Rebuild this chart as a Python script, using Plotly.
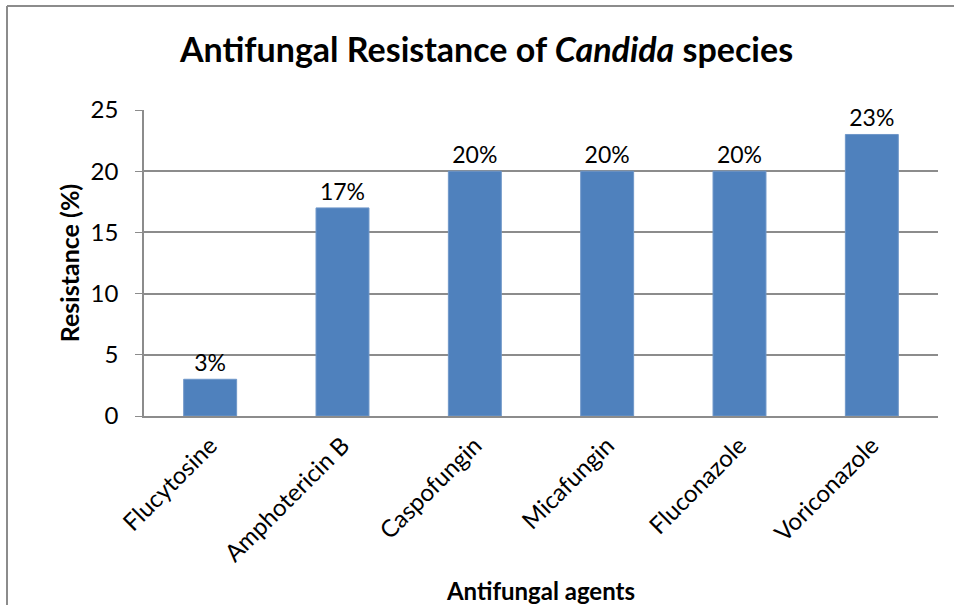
import plotly.graph_objects as go

# Antifungal resistance (%) of Candida species by agent
agents = ["Flucytosine", "Amphotericin B", "Caspofungin", "Micafungin", "Fluconazole", "Voriconazole"]
resistance = [3, 17, 20, 20, 20, 23]
y_ticks = [0, 5, 10, 15, 20, 25]

FONT = "Lato"
GRID = "#8c8c8c"

fig = go.Figure(
    go.Bar(
        x=agents,
        y=resistance,
        marker=dict(color="#4F81BD", line=dict(color="#6f97c9", width=1)),
        text=[f"{v}%" for v in resistance],
        textposition="outside",
        textfont=dict(family=FONT, size=23, color="#000000"),
        cliponaxis=False,
        width=0.4,
    )
)

W, H = 954, 605
L, R, T, B = 144, 16, 110, 189

fig.update_layout(
    width=W,
    height=H,
    margin=dict(l=L, r=R, t=T, b=B, autoexpand=False),
    paper_bgcolor="white",
    plot_bgcolor="white",
    showlegend=False,
    font=dict(family=FONT, color="#000000"),
    title=dict(
        text="<b>Antifungal Resistance of <i>Candida</i> species</b>",
        font=dict(family=FONT, size=34, color="#000000"),
        x=0.51,
        xanchor="center",
        y=1 - 50 / H,
        yanchor="middle",
    ),
    xaxis=dict(
        showline=True,
        linecolor=GRID,
        linewidth=2,
        ticks="",
        tickangle=-45,
        tickfont=dict(family=FONT, size=24),
        ticklabelstandoff=4,
        automargin=False,
        title=dict(text="<b>Antifungal agents</b>", font=dict(family=FONT, size=24), standoff=20),
        showgrid=False,
    ),
    yaxis=dict(
        range=[0, 25],
        tickvals=y_ticks,
        showline=True,
        linecolor=GRID,
        linewidth=1.5,
        ticks="outside",
        ticklen=7,
        tickcolor=GRID,
        tickfont=dict(family=FONT, size=24),
        ticklabelstandoff=12,
        automargin=False,
        showgrid=True,
        gridcolor=GRID,
        gridwidth=1.5,
        zeroline=False,
        title=dict(text="<b>Resistance (%)</b>", font=dict(family=FONT, size=25), standoff=4),
    ),
)

# outer chart frame (top and left edges visible)
px_x = lambda p: (p - L) / (W - L - R)
px_y = lambda p: (H - B - p) / (H - T - B)
fig.add_shape(type="line", xref="paper", yref="paper",
              x0=px_x(7), x1=px_x(W + 5), y0=px_y(6), y1=px_y(6),
              line=dict(color=GRID, width=2))
fig.add_shape(type="line", xref="paper", yref="paper",
              x0=px_x(7), x1=px_x(7), y0=px_y(6), y1=px_y(H + 5),
              line=dict(color=GRID, width=2))

fig.write_html("out.html")
